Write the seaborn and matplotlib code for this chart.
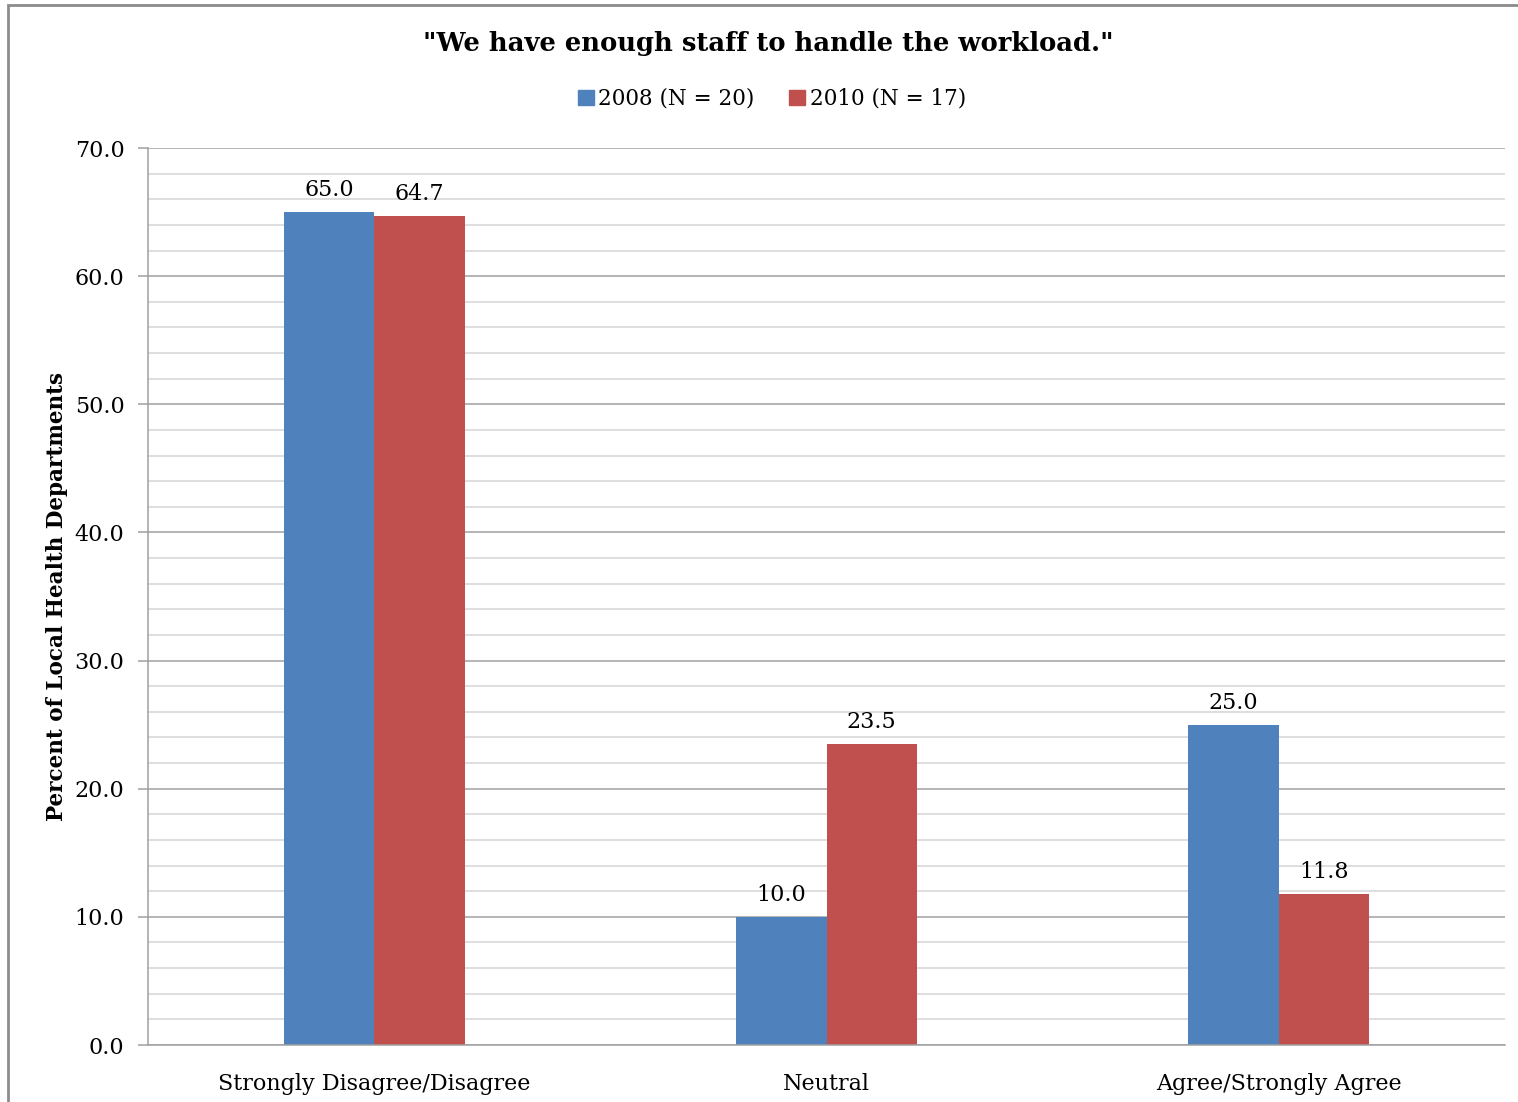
import matplotlib
matplotlib.use("Agg")
import matplotlib.pyplot as plt
from matplotlib.patches import Rectangle
from matplotlib.ticker import MultipleLocator
import seaborn as sns
import pandas as pd

categories = ["Strongly Disagree/Disagree", "Neutral", "Agree/Strongly Agree"]
series_names = ["2008 (N = 20)", "2010 (N = 17)"]
values_2008 = [65.0, 10.0, 25.0]
values_2010 = [64.7, 23.5, 11.8]
y_ticks = [0, 10, 20, 30, 40, 50, 60, 70]

colors = ["#4F81BD", "#C0504D"]

df = pd.DataFrame({
    "category": categories * 2,
    "series": [series_names[0]] * 3 + [series_names[1]] * 3,
    "value": values_2008 + values_2010,
})

sns.set_theme(style="white")
plt.rcParams["font.family"] = ["DejaVu Serif", "DejaVu Sans"]
plt.rcParams["text.color"] = "black"
plt.rcParams["axes.labelcolor"] = "black"
plt.rcParams["xtick.color"] = "black"
plt.rcParams["ytick.color"] = "black"

fig = plt.figure(figsize=(15.18, 11.02), dpi=100)
ax = fig.add_axes([148 / 1518, 1 - 1045 / 1102, (1505 - 148) / 1518, (1045 - 148) / 1102])

sns.barplot(data=df, x="category", y="value", hue="series", palette=colors,
            width=0.4, saturation=1, ax=ax, legend=True, linewidth=0)

ax.set_ylim(0, 70)
ax.set_xlim(-0.5, 2.5)
ax.set_yticks(y_ticks)
ax.set_yticklabels([f"{v:.1f}" for v in y_ticks], fontsize=16)
ax.yaxis.set_minor_locator(MultipleLocator(2))
ax.grid(axis="y", which="major", color="#a0a0a0", linewidth=1.1)
ax.grid(axis="y", which="minor", color="#d4d4d4", linewidth=1.1)
ax.set_axisbelow(True)
ax.tick_params(axis="y", which="major", length=7, color="#a0a0a0", width=1.1,
               direction="out", left=True, pad=10)
ax.tick_params(axis="y", which="minor", length=0)
ax.tick_params(axis="x", length=0, labelsize=16, pad=20)

for side in ["top", "right"]:
    ax.spines[side].set_visible(False)
for side in ["left", "bottom"]:
    ax.spines[side].set_color("#a0a0a0")
    ax.spines[side].set_linewidth(1.1)

ax.set_xlabel("")
ax.set_ylabel("Percent of Local Health Departments", fontsize=15.5, fontweight="bold", labelpad=5)

for container in ax.containers:
    ax.bar_label(container, fmt="%.1f", fontsize=16, padding=8, color="black")

ax.legend_.remove()
handles = [Rectangle((0, 0), 1, 1, color=c) for c in colors]
fig.legend(handles, series_names, loc="center", bbox_to_anchor=(772 / 1518, 1 - 99 / 1102),
           ncol=2, frameon=False, fontsize=15.5, handlelength=0.75, handleheight=0.75,
           handletextpad=0.2, columnspacing=1.6)

fig.text(768 / 1518, 1 - 43 / 1102, "\"We have enough staff to handle the workload.\"",
         ha="center", va="center", fontsize=18.6, fontweight="heavy")

# outer chart frame
fig.patches.append(Rectangle((8 / 1518, -0.05), 1.1, 1 - 5 / 1102 + 0.05,
                             transform=fig.transFigure, fill=False,
                             edgecolor="#8c8c8c", linewidth=2))

fig.savefig("out.png", dpi=100)
